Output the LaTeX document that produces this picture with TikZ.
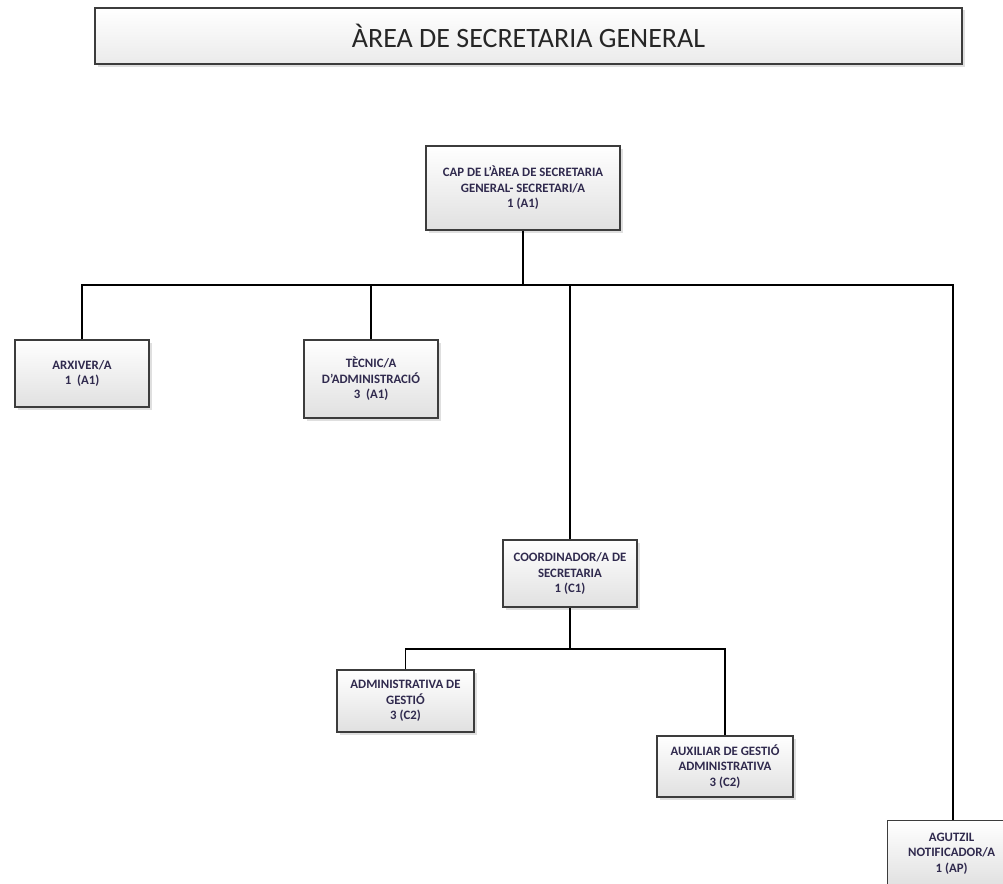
\documentclass[tikz,border=0pt]{standalone}
\usepackage{fontspec}
\setmainfont{Carlito}
\usetikzlibrary{shadows}
\definecolor{boxtext}{RGB}{48,42,78}
\definecolor{boxline}{RGB}{60,60,60}
\begin{document}
\begin{tikzpicture}[x=1pt,y=-1pt,
  orgbox/.style={draw=boxline, line width=1.3pt, top color=white, bottom color=black!12,
    drop shadow={shadow xshift=2.5pt, shadow yshift=-2.5pt, opacity=0.25},
    align=center, font=\bfseries\fontsize{12.8}{15.5}\selectfont, text=boxtext,
    inner sep=0pt, anchor=center},
  link/.style={line width=1.3pt, draw=black}]
\useasboundingbox (0,0) rectangle (1003,883);
\begin{scope}
\clip (0,0) rectangle (1003,883);
\node[draw=boxline, line width=1.3pt, top color=white, bottom color=black!8,
  drop shadow={shadow xshift=2.5pt, shadow yshift=-2.5pt, opacity=0.25},
  minimum width=867pt, minimum height=56pt, inner sep=0pt, text=black!85,
  font=\fontsize{28}{32}\selectfont] (title) at (528.5,36) {ÀREA DE SECRETARIA GENERAL};

\node[orgbox, minimum width=194pt, minimum height=84pt] (cap) at (523,188)
  {CAP DE L’ÀREA DE SECRETARIA\\GENERAL- SECRETARI/A\\1 (A1)};
\node[orgbox, minimum width=134pt, minimum height=67pt] (arx) at (82,373.5)
  {ARXIVER/A\\1\ \ (A1)};
\node[orgbox, minimum width=134pt, minimum height=78pt] (tec) at (371,379)
  {TÈCNIC/A\\D’ADMINISTRACIÓ\\3\ \ (A1)};
\node[orgbox, minimum width=134pt, minimum height=67pt] (coord) at (570,573.5)
  {COORDINADOR/A DE\\SECRETARIA\\1 (C1)};
\node[orgbox, minimum width=137pt, minimum height=62pt] (adm) at (405.5,701)
  {ADMINISTRATIVA DE\\GESTIÓ\\3 (C2)};
\node[orgbox, minimum width=136pt, minimum height=61pt] (aux) at (725,766.5)
  {AUXILIAR DE GESTIÓ\\ADMINISTRATIVA\\3 (C2)};
\node[orgbox, minimum width=128pt, minimum height=66pt, anchor=north west] (agu) at (887,820)
  {AGUTZIL\\NOTIFICADOR/A\\1 (AP)};

\coordinate (busL) at (82,285);
\coordinate (busR) at (953,285);
\coordinate (bus2) at (570,649);
\draw[link] (cap.south) -- (cap.south |- busL);
\draw[link] (arx.north) -- (arx.north |- busL) -- (busR) -- (busR |- agu.north);
\draw[link] (tec.north) -- (tec.north |- busL);
\draw[link] (coord.north) -- (coord.north |- busL);
\draw[link] (coord.south) -- (bus2);
\draw[link] (adm.north) -- (adm.north |- bus2) -- (aux.north |- bus2) -- (aux.north);
\end{scope}
\end{tikzpicture}
\end{document}
